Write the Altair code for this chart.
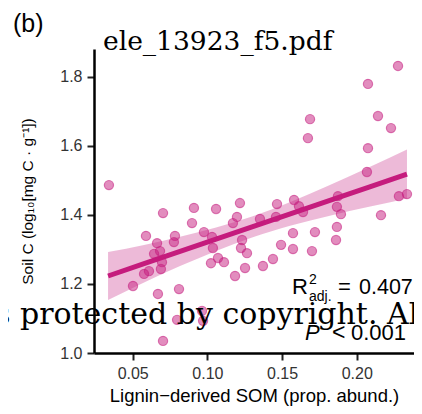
import altair as alt
import numpy as np
import pandas as pd

# ---- data ----
lignin = [0.0341, 0.0703, 0.0910, 0.1058, 0.1218, 0.0897, 0.0589, 0.0663, 0.0783, 0.0776,
          0.0683, 0.0643, 0.0696, 0.0609, 0.0576, 0.0689, 0.0502, 0.0669, 0.0810, 0.0977,
          0.1031, 0.1037, 0.1024, 0.1071, 0.1111, 0.1171, 0.1198, 0.1232, 0.1225, 0.1265,
          0.1252, 0.1185, 0.0964, 0.0971, 0.0797, 0.0703, 0.1352, 0.1466, 0.1459, 0.1580,
          0.1613, 0.1640, 0.1493, 0.1573, 0.1573, 0.1700, 0.1720, 0.1439, 0.1372, 0.2276,
          0.2075, 0.1687, 0.1673, 0.2142, 0.2229, 0.2075, 0.2068, 0.2282, 0.2336, 0.1874,
          0.1867, 0.1894, 0.1867, 0.1861, 0.2162]
soil_c = [1.486, 1.405, 1.420, 1.417, 1.434, 1.376, 1.339, 1.318, 1.339, 1.321,
          1.295, 1.287, 1.263, 1.237, 1.229, 1.243, 1.194, 1.171, 1.185, 1.350,
          1.336, 1.304, 1.260, 1.275, 1.263, 1.376, 1.394, 1.327, 1.304, 1.289,
          1.246, 1.223, 1.122, 1.093, 1.096, 1.035, 1.388, 1.431, 1.394, 1.443,
          1.425, 1.408, 1.313, 1.347, 1.301, 1.295, 1.350, 1.272, 1.252, 1.831,
          1.779, 1.677, 1.622, 1.686, 1.651, 1.593, 1.524, 1.454, 1.460, 1.454,
          1.423, 1.402, 1.365, 1.327, 1.399]

# fitted line and its 95% confidence band
fit_x = [0.0335, 0.0576, 0.0817, 0.1058, 0.1299, 0.1560, 0.1820, 0.2082, 0.2336]
fit_y = [1.2229, 1.2585, 1.2941, 1.3294, 1.3650, 1.4035, 1.4420, 1.4805, 1.5181]
fit_lo = [1.1534, 1.2043, 1.2515, 1.2955, 1.3346, 1.3690, 1.3974, 1.4231, 1.4472]
fit_hi = [1.2923, 1.3126, 1.3366, 1.3632, 1.3954, 1.4379, 1.4865, 1.5378, 1.5890]

x_ticks = [0.05, 0.10, 0.15, 0.20]
y_ticks = [1.0, 1.2, 1.4, 1.6, 1.8]

x_title = "Lignin\u2212derived SOM (prop. abund.)"
y_title = "Soil C (log\u2081\u2080[mg C \u00b7 g\u207b\u00b9])"
panel_label = "(b)"
file_label = "ele_13923_f5.pdf"
watermark = "s protected by copyright. All rights reserved."
r2_value = "0.407"
p_value = "0.001"

PINK = "#C51B7D"

band = pd.DataFrame({"x": fit_x, "fit": fit_y, "lo": fit_lo, "hi": fit_hi})
pts = pd.DataFrame({"x": lignin, "y": soil_c})

xscale = alt.Scale(domain=[0.0241, 0.2383], nice=False, zero=False)
yscale = alt.Scale(domain=[1.0, 1.880], nice=False, zero=False)

xaxis = alt.Axis(values=x_ticks, format=".2f", title=x_title, grid=False,
                 domainColor="black", domainWidth=2.5, tickColor="#222222", tickWidth=2,
                 tickSize=7, labelFontSize=16, labelColor="#333333", labelPadding=5,
                 labelFont="Liberation Sans", titleFont="Liberation Sans", titleFontSize=18.5,
                 titleFontWeight="normal", titleColor="black", titlePadding=5)
yaxis = alt.Axis(values=y_ticks, format=".1f", title=y_title, grid=False,
                 domainColor="black", domainWidth=2.5, tickColor="#222222", tickWidth=2,
                 tickSize=7, labelFontSize=16, labelColor="#333333", labelPadding=5,
                 labelFont="Liberation Sans", titleFont="Liberation Sans", titleFontSize=15.5,
                 titleFontWeight="normal", titleColor="black", titlePadding=24)

area = alt.Chart(band).mark_area(color=PINK, opacity=0.3, interpolate="monotone").encode(
    x=alt.X("x:Q", scale=xscale, axis=xaxis),
    y=alt.Y("lo:Q", scale=yscale, axis=yaxis),
    y2="hi:Q",
)
line = alt.Chart(band).mark_line(color=PINK, strokeWidth=5).encode(
    x=alt.X("x:Q", scale=xscale),
    y=alt.Y("fit:Q", scale=yscale),
)
points = alt.Chart(pts).mark_point(shape="circle", size=85, fill=PINK, fillOpacity=0.5,
                                   stroke=PINK, strokeOpacity=0.55, strokeWidth=1.2).encode(
    x=alt.X("x:Q", scale=xscale),
    y=alt.Y("y:Q", scale=yscale),
)


def label(text, px, py, size, font="Liberation Sans", style="normal", color="black"):
    return alt.Chart(pd.DataFrame({"t": [text]})).mark_text(
        align="left", baseline="alphabetic", fontSize=size, font=font,
        fontStyle=style, color=color,
    ).encode(text="t:N", x=alt.value(px), y=alt.value(py))


texts = [
    label(panel_label, -81, -17, 25),
    label(file_label, 9, 1, 26.5, font="DejaVu Serif"),
    label("R", 198, 245, 22),
    label("2", 215, 235, 14),
    label("adj.", 215, 252, 14),
    label("=", 244, 245, 22),
    label(r2_value, 265, 245, 21.5),
    label("P", 211, 291, 22, style="italic"),
    label("<", 238, 291, 23),
    label(p_value, 257, 291, 22),
    label(watermark, -99, 275, 30, font="DejaVu Serif"),
]

chart = alt.layer(area, line, points, *texts).properties(
    width=320, height=304,
    padding={"left": 86, "top": 41, "right": 0, "bottom": 53},
    autosize=alt.AutoSizeParams(type="none"),
).configure_view(stroke=None)

chart.save("out.html", embed_options={"renderer": "svg", "actions": False})
